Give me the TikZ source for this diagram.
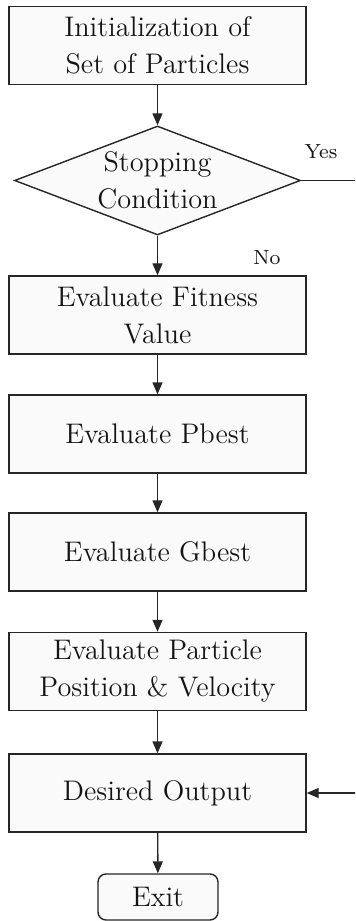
\documentclass[tikz,border=0pt]{standalone}
\usetikzlibrary{shapes.geometric,arrows.meta}
% one drawing unit
\newcommand\pxlen{0.392pt}
\begin{document}
\begin{tikzpicture}[x=\pxlen,y=-\pxlen,
  every node/.style={font=\fontsize{11.1}{14.5}\selectfont, text=black!92},
  line/.style={draw=black!85, line width=0.55pt},
  arr/.style={line, -{Triangle[length=12*\pxlen,width=10*\pxlen]}},
  procbox/.style={line, fill=black!2, rectangle, minimum width=297*\pxlen, minimum height=78*\pxlen, align=center, inner sep=0pt},
  decision/.style={line, fill=black!2, diamond, minimum width=286*\pxlen, minimum height=109*\pxlen, aspect=2.62, align=center, inner sep=0pt},
  terminal/.style={line, fill=black!2, rectangle, rounded corners=8*\pxlen, minimum width=120*\pxlen, minimum height=46*\pxlen, inner sep=0pt},
  lbl/.style={font=\fontsize{8}{10}\selectfont}]
  \useasboundingbox (0,0) rectangle (355,921);
  \clip (0,0) rectangle (355,921);

  \node[procbox] (init) at (157.5,45.5) {Initialization of\\Set of Particles};
  \node[decision] (stop) at (157.5,180.5) {Stopping\\Condition};
  \node[procbox] (fit) at (157.5,315) {Evaluate Fitness\\Value};
  \node[procbox] (pbest) at (157.5,434) {Evaluate Pbest};
  \node[procbox] (gbest) at (157.5,552) {Evaluate Gbest};
  \node[procbox] (pv) at (157.5,671.5) {Evaluate Particle\\Position \& Velocity};
  \node[procbox] (out) at (157.5,793) {Desired Output};
  \node[terminal] (exit) at (158,897) {Exit};

  \node[lbl] (yes) at (321,152) {Yes};
  \node[lbl] (no) at (267,258) {No};

  \draw[arr] (init) -- (stop);
  \draw[arr] (stop) -- (fit);
  \draw[arr] (fit) -- (pbest);
  \draw[arr] (pbest) -- (gbest);
  \draw[arr] (gbest) -- (pv);
  \draw[arr] (pv) -- (out);
  \draw[arr] (out) -- (exit);
  \draw[arr] (stop.east) -- ++(80,0) |- (out.east);
\end{tikzpicture}
\end{document}
